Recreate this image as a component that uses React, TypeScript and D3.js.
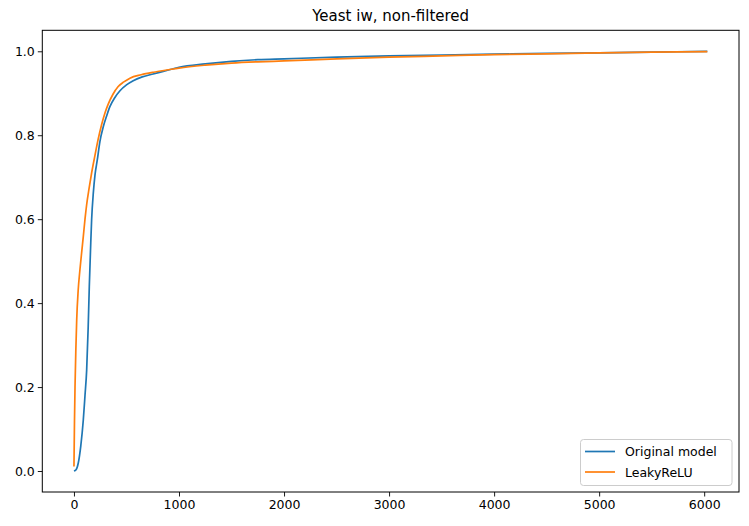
import React, { useRef, useEffect } from "react";
import * as d3 from "d3";

// Original model curve
const blueX = [0, 20, 41, 65, 89, 105, 121, 135, 146, 158, 168, 185, 200, 222, 247, 279, 311, 342, 390, 438, 500, 564, 650, 754, 850, 1000, 1250, 1500, 1750, 2000, 2500, 3000, 3500, 4000, 4500, 5000, 5500, 6030];
const blueY = [0, 0.003, 0.019, 0.06, 0.122, 0.18, 0.241, 0.34, 0.44, 0.53, 0.598, 0.665, 0.705, 0.741, 0.785, 0.820, 0.846, 0.868, 0.89, 0.906, 0.92, 0.930, 0.939, 0.946, 0.952, 0.962, 0.970, 0.976, 0.980, 0.982, 0.986, 0.989, 0.991, 0.993, 0.995, 0.996, 0.998, 1.0];

// LeakyReLU curve
const orangeX = [0, 5, 10, 18, 26, 40, 57, 75, 89, 105, 121, 145, 168, 200, 230, 263, 295, 326, 370, 421, 475, 533, 640, 754, 900, 1000, 1250, 1500, 1750, 2000, 2500, 3000, 3500, 4000, 4500, 5000, 5500, 6030];
const orangeY = [0.011, 0.12, 0.2, 0.29, 0.36, 0.43, 0.48, 0.525, 0.559, 0.6, 0.635, 0.675, 0.71, 0.752, 0.79, 0.825, 0.853, 0.874, 0.897, 0.916, 0.927, 0.936, 0.944, 0.950, 0.956, 0.960, 0.967, 0.972, 0.975, 0.977, 0.982, 0.986, 0.989, 0.992, 0.994, 0.996, 0.998, 0.999];

const xTicks = [0, 1000, 2000, 3000, 4000, 5000, 6000];
const yTicks = [0.0, 0.2, 0.4, 0.6, 0.8, 1.0];
const seriesNames = ["Original model", "LeakyReLU"];
const seriesColors = ["#1f77b4", "#ff7f0e"];

function App() {
    const svgRef = useRef(null);

    useEffect(() => {
        const w = 749;
        const h = 526;
        const left = 42.3, right = 739, top = 30.3, bottom = 492;
        const font = "DejaVu Sans, sans-serif";

        const svg = d3.select(svgRef.current);
        svg.selectAll("*").remove();
        svg.attr("width", w).attr("height", h);

        svg.append("rect").attr("width", w).attr("height", h).attr("fill", "#fff");

        // Scales with matplotlib-like 5% margins
        const xScale = d3.scaleLinear().domain([-301.5, 6331.5]).range([left, right]);
        const yScale = d3.scaleLinear().domain([-0.05, 1.05]).range([bottom, top]);

        const line = d3.line()
            .x(d => xScale(d[0]))
            .y(d => yScale(d[1]))
            .curve(d3.curveMonotoneX);

        const series = [
            blueX.map((x, i) => [x, blueY[i]]),
            orangeX.map((x, i) => [x, orangeY[i]]),
        ];

        series.forEach((pts, i) => {
            svg.append("path")
                .datum(pts)
                .attr("d", line)
                .attr("fill", "none")
                .attr("stroke", seriesColors[i])
                .attr("stroke-width", 1.7);
        });

        // Axes frame
        svg.append("rect")
            .attr("x", left).attr("y", top)
            .attr("width", right - left).attr("height", bottom - top)
            .attr("fill", "none").attr("stroke", "#000").attr("stroke-width", 1);

        // Axes
        const xAxis = d3.axisBottom(xScale).tickValues(xTicks).tickFormat(d3.format("d")).tickSize(4.5).tickSizeOuter(0);
        const yAxis = d3.axisLeft(yScale).tickValues(yTicks).tickFormat(d3.format(".1f")).tickSize(4.5).tickSizeOuter(0);

        const gx = svg.append("g").attr("transform", `translate(0, ${bottom})`).call(xAxis);
        const gy = svg.append("g").attr("transform", `translate(${left}, 0)`).call(yAxis);
        [gx, gy].forEach(g => {
            g.select(".domain").remove();
            g.selectAll("line").attr("stroke", "#000").attr("stroke-width", 0.9);
            g.selectAll("text").attr("fill", "#000").style("font-family", font).style("font-size", "12.5px");
        });
        gx.selectAll("text").attr("y", 8);
        gy.selectAll("text").attr("x", -7.5);

        // Title
        svg.append("text")
            .attr("x", (left + right) / 2)
            .attr("y", 21)
            .attr("text-anchor", "middle")
            .style("font-family", font)
            .style("font-size", "15px")
            .text("Yeast iw, non-filtered");

        // Legend
        const lg = svg.append("g");
        lg.append("rect")
            .attr("x", 580.5).attr("y", 439.5)
            .attr("width", 151.5).attr("height", 46)
            .attr("rx", 3)
            .attr("fill", "#fff").attr("fill-opacity", 0.8)
            .attr("stroke", "#ccc");
        seriesNames.forEach((name, i) => {
            const yy = 451.5 + i * 20.5;
            lg.append("line")
                .attr("x1", 585).attr("x2", 615)
                .attr("y1", yy).attr("y2", yy)
                .attr("stroke", seriesColors[i]).attr("stroke-width", 1.7);
            lg.append("text")
                .attr("x", 625).attr("y", yy + 4.5)
                .style("font-family", font).style("font-size", "12.5px")
                .text(name);
        });
    }, []);

    return (
        <svg ref={svgRef} style={{ position: "absolute", left: 0, top: 0 }}></svg>
    );
}

export default App;
